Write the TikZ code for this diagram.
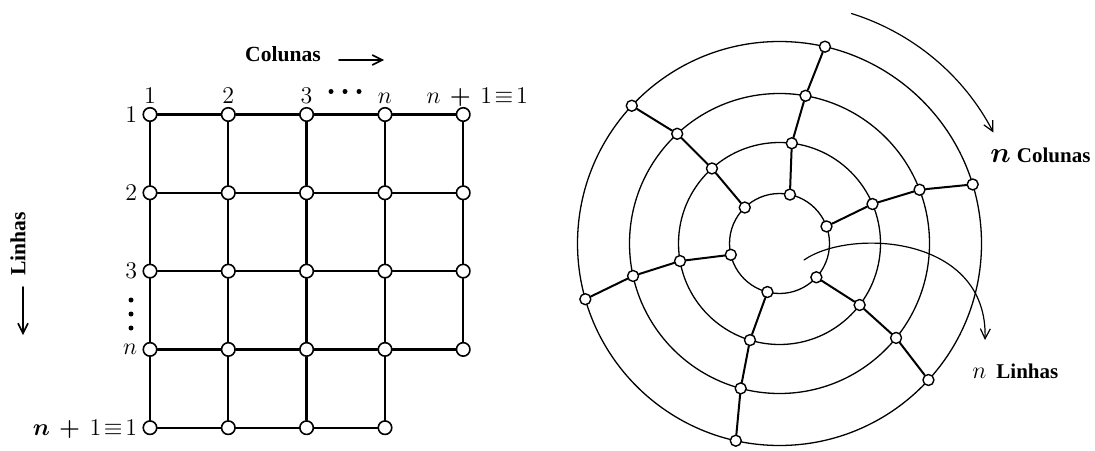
\documentclass[tikz,border=0pt]{standalone}
\usepackage{amsmath, amssymb}
\usepackage{fontspec}
\newfontfamily\libserif{Liberation Serif}
\usetikzlibrary{arrows.meta,positioning}
\begin{document}
\begin{tikzpicture}[x=0.5pt, y=0.5pt, >={Straight Barb[length=5pt,width=5pt]},
    line cap=round, line join=round, font=\fontsize{12}{14}\selectfont,
    nodo/.style={circle, draw, fill=white, line width=0.8pt, inner sep=0pt, minimum size=6.75pt},
    nodino/.style={circle, draw, fill=white, line width=0.7pt, inner sep=0pt, minimum size=5.5pt},
    lato/.style={line width=1.15pt},
    anello/.style={line width=0.65pt},
    raggio/.style={line width=1pt},
    lab/.style={inner sep=1pt, text depth=0pt},
    etich/.style={font=\libserif\bfseries\fontsize{10.8}{12}\selectfont}]

\useasboundingbox (0,0) rectangle (1095,450);

% Reticolo (righe x colonne)
\foreach \r/\y in {1/335.5, 2/257.2, 3/178.9, 4/100.6}
  \foreach \k/\x in {1/150, 2/228.3, 3/306.6, 4/385, 5/463.2}
    \node[nodo] (g\r\k) at (\x,\y) {};
\foreach \k/\x in {1/150, 2/228.3, 3/306.6, 4/385}
  \node[nodo] (g5\k) at (\x,22.3) {};

\foreach \r in {1,...,4} \draw[lato] (g\r1) -- (g\r2) -- (g\r3) -- (g\r4) -- (g\r5);
\draw[lato] (g51) -- (g52) -- (g53) -- (g54);
\foreach \k in {1,...,4} \draw[lato] (g1\k) -- (g2\k) -- (g3\k) -- (g4\k) -- (g5\k);
\draw[lato] (g15) -- (g25) -- (g35) -- (g45);

% Etichette colonne
\node[lab, above=0.5pt of g11] (c1) {$1$};
\node[lab, above=0.5pt of g12] (c2) {$2$};
\node[lab, above=0.5pt of g13] (c3) {$3$};
\node[lab, above=0.5pt of g14] (c4) {$n$};
\node[lab, above=0.5pt of g15, xshift=7pt] (c5) {$n\,\boldsymbol{+}\,1\!\equiv\!1$};
\foreach \x in {331,345,359} \fill (\x,358.5) circle (2.5);

% Etichette righe
\node[lab, left=1.5pt of g11] (r1) {$1$};
\node[lab, left=1.5pt of g21] (r2) {$2$};
\node[lab, left=1.5pt of g31] (r3) {$3$};
\node[lab, left=1.5pt of g41] (r4) {$n$};
\node[lab, left=1.5pt of g51] (r5) {$\boldsymbol{n}\,\boldsymbol{+}\,1\!\equiv\!1$};
\foreach \y in {150,136,122} \fill (131,\y) circle (2.5);

% Colunas / Linhas
\node[etich, anchor=base] (tcol) at (283,388) {Colunas};
\coordinate (fc1) at (339,390);
\coordinate (fc2) at (384,390);
\draw[->, line width=0.8pt] (fc1) -- (fc2);

\node[etich, rotate=90] (tlin) at (18,206) {Linhas};
\coordinate (fl1) at (23,163);
\coordinate (fl2) at (23,115);
\draw[->, line width=0.8pt] (fl1) -- (fl2);

% Anelli
\coordinate (C) at (779.5,206.5);
\foreach \rr in {50,101,150,202}
  \draw[anello] (C) circle[radius=\rr];

% Raggi (colonne a spirale)
\foreach \s/\ta/\tb/\tc/\td in {a/20/23/21/17, b/78/83/80/77, c/134/132/133/137,
    d/193/190/192.5/196, e/256/253/255/257.5, f/317.5/322.5/321/317.5} {
  \node[nodino] (s\s1) at ([shift={(\ta:50)}]C) {};
  \node[nodino] (s\s2) at ([shift={(\tb:101)}]C) {};
  \node[nodino] (s\s3) at ([shift={(\tc:150)}]C) {};
  \node[nodino] (s\s4) at ([shift={(\td:202)}]C) {};
  \draw[raggio] (s\s1) -- (s\s2) -- (s\s3) -- (s\s4);
}

% Frecce
\draw[->, line width=0.6pt] ([shift={(72.6:241)}]C) arc[start angle=72.6, end angle=27.4, radius=241];
\coordinate (fa) at (804,190);
\coordinate (fb) at (985,110);
\draw[->, line width=0.6pt] (fa) .. controls (850,222) and (988,215) .. (fb);

\node[anchor=base west, inner sep=0pt] (ncol) at (990,287)
  {\fontsize{14}{16}\selectfont$\boldsymbol{n}$\hspace{3pt}{\libserif\bfseries\fontsize{10.5}{12}\selectfont Colunas}};
\node[anchor=base west, inner sep=0pt] (nlin) at (972,72)
  {\fontsize{13}{16}\selectfont$n$\hspace{5pt}{\libserif\bfseries\fontsize{10.5}{12}\selectfont Linhas}};

\end{tikzpicture}
\end{document}
